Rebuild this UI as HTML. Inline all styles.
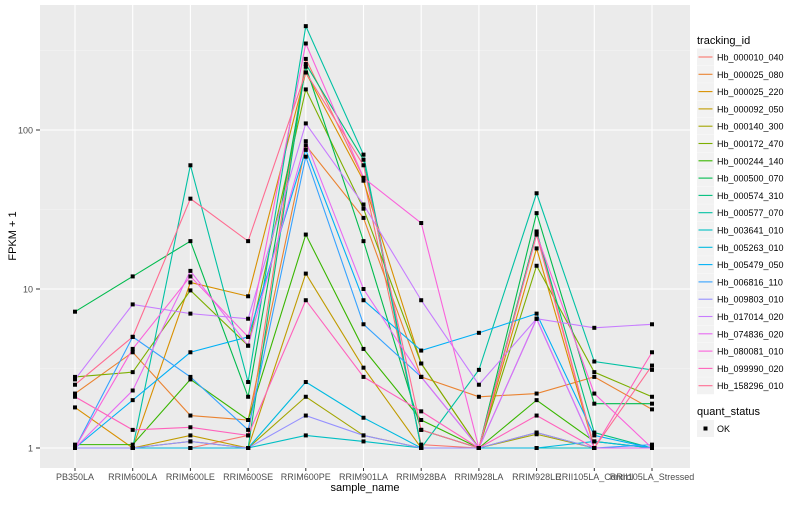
<!DOCTYPE html>
<html><head><meta charset="utf-8"><style>
body{margin:0;background:#fff;font-family:"Liberation Sans",sans-serif}
</style></head><body>
<svg id="c" width="800" height="500" xmlns="http://www.w3.org/2000/svg" font-family="Liberation Sans, sans-serif"></svg>
<script>
const categories=["PB350LA","RRIM600LA","RRIM600LE","RRIM600SE","RRIM600PE","RRIM901LA","RRIM928BA","RRIM928LA","RRIM928LE","RRII105LA_Control","RRII105LA_Stressed"];
const seriesNames=["Hb_000010_040","Hb_000025_080","Hb_000025_220","Hb_000092_050","Hb_000140_300","Hb_000172_470","Hb_000244_140","Hb_000500_070","Hb_000574_310","Hb_000577_070","Hb_003641_010","Hb_005263_010","Hb_005479_050","Hb_006816_110","Hb_009803_010","Hb_017014_020","Hb_074836_020","Hb_080081_010","Hb_099990_020","Hb_158296_010"];
const colors=["#F8766D","#EA8331","#D89000","#C09B00","#A3A500","#7CAE00","#39B600","#00BB4E","#00BF7D","#00C1A3","#00BFC4","#00BAE0","#00B0F6","#35A2FF","#9590FF","#C77CFF","#E76BF3","#FA62DB","#FF62BC","#FF6C91"];
const s01=[1,1,1,1.2,280,50,1.05,1,23,1,1];
const s02=[2.2,4,1.6,1.5,80,28,2.8,2.1,2.2,2.8,1.75];
const s03=[1.8,1,11,9,230,48,3.4,1,18,1,1];
const s04=[1,1,1.2,1,12.5,3.2,1,1,1.25,1,1];
const s05=[1,1,1.1,1,2.1,1.2,1,1,1.22,1,1];
const s06=[2.8,3,9.8,4.4,180,32,3.4,1,14,3,2.1];
const s07=[1.05,1.05,2.7,1.5,22,4.2,1.5,1,2,1.1,1];
const s08=[7.2,12,20,2.1,250,20,1.3,1,30,1.9,1.9];
const s09=[1,1,1,1,260,65,1,1,23,1.25,1];
const s10=[1,1,60,2.6,450,70,1,3.1,40,3.5,3.1];
const s11=[1,1,1,1,1.2,1.1,1,1,1,1,1];
const s12=[1,1,1,1,2.6,1.55,1,1,1,1.1,1];
const s13=[1,2,4,5,75,8.5,4.1,5.3,7,1.2,1];
const s14=[1,5,2.8,1.3,68,6,2.8,1,6.5,1,1.05];
const s15=[1,1,1.1,1,1.6,1.2,1,1,1.25,1,1];
const s16=[2.7,8,7,6.5,110,34,8.5,2.5,6.5,5.7,6];
const s17=[1,2.3,13,4.4,85,10,2.8,1,6.5,1,1];
const s18=[1,4.2,12,5,350,50,26,1,22,2.2,1];
const s19=[2.1,1.3,1.35,1.2,8.5,2.8,1.7,1,1.6,1,4];
const s20=[2.5,5,37,20,230,60,1.3,1,22,1,3.3];
const seriesValues=[s01,s02,s03,s04,s05,s06,s07,s08,s09,s10,s11,s12,s13,s14,s15,s16,s17,s18,s19,s20];
const yTicks=[1,10,100];
const yMinor=[Math.sqrt(10),Math.sqrt(1000),Math.sqrt(100000)];

const NS="http://www.w3.org/2000/svg";
const svg=document.getElementById('c');
function mk(t,a,p){const e=document.createElementNS(NS,t);for(const k in a)e.setAttribute(k,a[k]);(p||svg).appendChild(e);return e;}
const PL=40,PR=690,PT=5,PB=468;
const x0=75,dx=57.7;
function xs(i){return x0+i*dx;}
function ys(v){return 448-159*Math.log10(v);}
const panel=mk('rect',{x:PL,y:PT,width:PR-PL,height:PB-PT,fill:'#EBEBEB'});


yMinor.forEach(v=>{const y=ys(v);if(y>PT&&y<PB)mk('line',{x1:PL,x2:PR,y1:y,y2:y,stroke:'#F5F5F5','stroke-width':0.6});});
yTicks.forEach(v=>{const y=ys(v);mk('line',{x1:PL,x2:PR,y1:y,y2:y,stroke:'#fff','stroke-width':1.1});
 mk('line',{x1:36,x2:40,y1:y,y2:y,stroke:'#333'});
 const t=mk('text',{x:33,y:y+3.5,'font-size':9,'text-anchor':'end',fill:'#4D4D4D'});t.textContent=v;
 
 });
categories.forEach((c,i)=>{const x=xs(i);mk('line',{x1:x,x2:x,y1:PT,y2:PB,stroke:'#fff','stroke-width':1.1});
 mk('line',{x1:x,x2:x,y1:PB,y2:PB+3,stroke:'#333'});
 const t=mk('text',{x:x,y:PB+12,'font-size':9,'text-anchor':'middle',fill:'#4D4D4D'});t.textContent=c;
 
 });
seriesValues.forEach((vals,si)=>{
 const pts=vals.map((v,i)=>xs(i)+','+ys(v)).join(' ');
 const l=mk('polyline',{points:pts,fill:'none',stroke:colors[si],'stroke-width':1.1});
 
 
});
seriesValues.forEach((vals)=>{vals.forEach((v,i)=>{
 const r=mk('rect',{x:xs(i)-2,y:ys(v)-2,width:4,height:4,fill:'#000'});
 
 
});});
const xt=mk('text',{x:365,y:491,'font-size':11,'text-anchor':'middle',fill:'#000'});xt.textContent='sample_name';


const yt=mk('text',{x:0,y:0,'font-size':11,'text-anchor':'middle',fill:'#000',transform:'translate(16,236) rotate(-90)'});yt.textContent='FPKM + 1';


const lt=mk('text',{x:697,y:44,'font-size':11,fill:'#000'});lt.textContent='tracking_id';


seriesNames.forEach((n,i)=>{const y=57+i*17.3;
 const g=mk('g',{});
 
 
 mk('rect',{x:697,y:y-8.5,width:17,height:17,fill:'#F2F2F2'},g);
 mk('line',{x1:698.5,x2:712.5,y1:y,y2:y,stroke:colors[i],'stroke-width':1.1},g);
 const t=mk('text',{x:717,y:y+3.5,'font-size':9,fill:'#000'},g);t.textContent=n;});
const qt=mk('text',{x:697,y:415,'font-size':11,fill:'#000'});qt.textContent='quant_status';


const qg=mk('g',{});


mk('rect',{x:697,y:420,width:17,height:17,fill:'#F2F2F2'},qg);
mk('rect',{x:703.5,y:426.5,width:4,height:4,fill:'#000'},qg);
const ok=mk('text',{x:717,y:432,'font-size':9,fill:'#000'},qg);ok.textContent='OK';
</script>
</body></html>
